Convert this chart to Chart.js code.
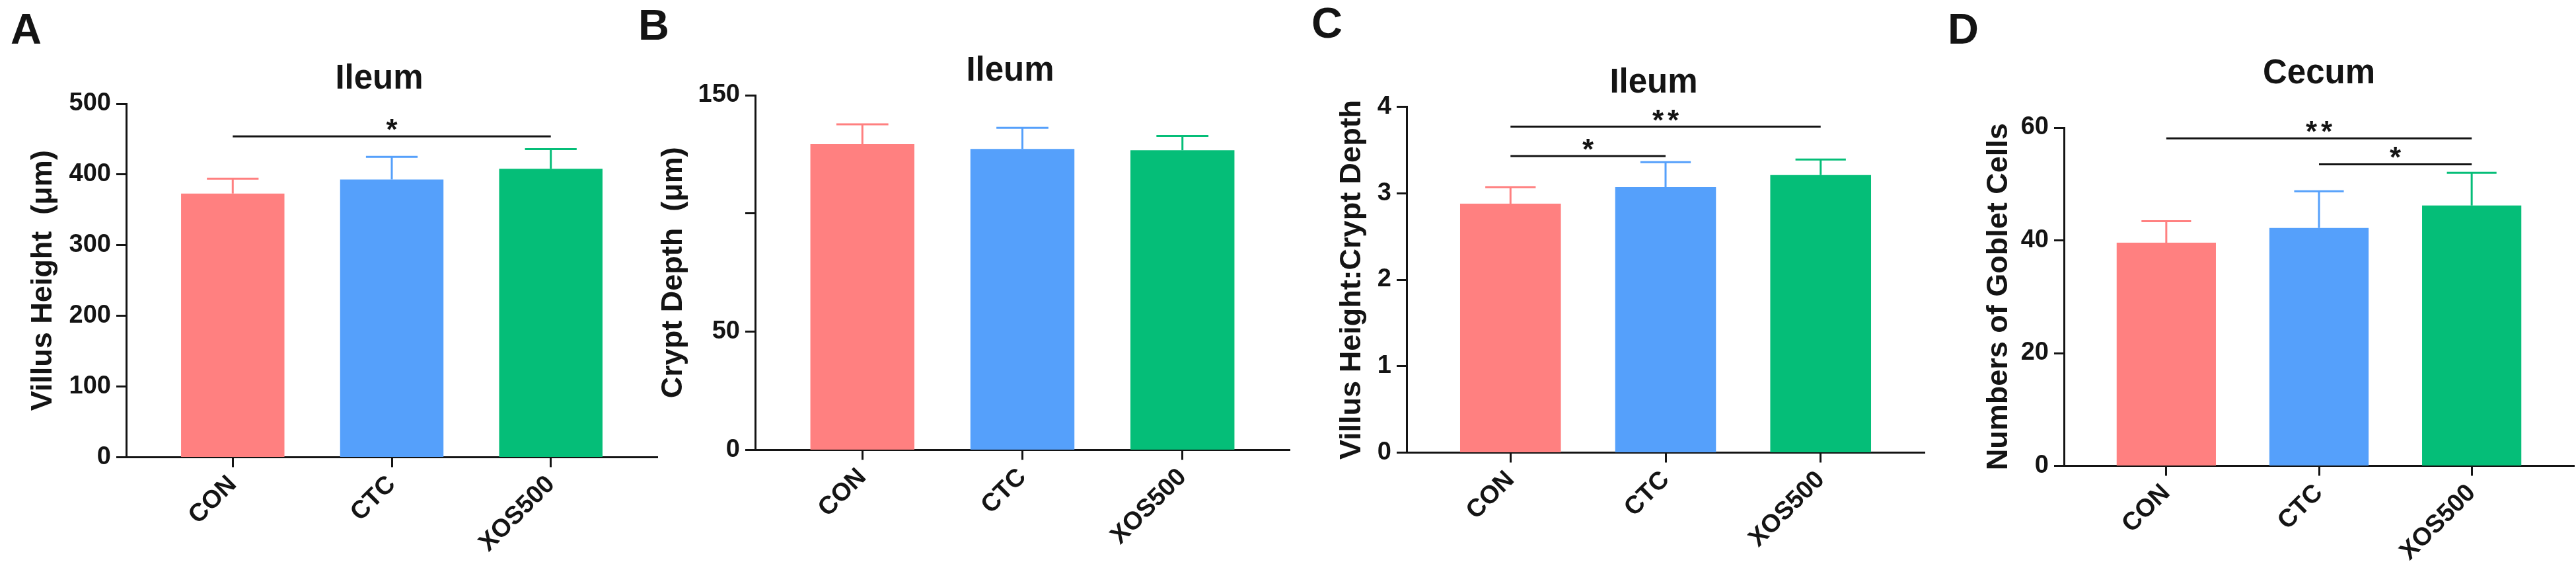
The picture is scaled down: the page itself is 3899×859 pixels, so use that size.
<!DOCTYPE html>
<html>
<head>
<meta charset="utf-8">
<script src="https://cdn.jsdelivr.net/npm/chart.js@4.4.1/dist/chart.umd.min.js"></script>
<style>
  html, body { margin: 0; padding: 0; background: #fff; }
  #wrap { position: relative; width: 3899px; height: 859px; }
  #wrap canvas { position: absolute; left: 0; top: 0; }
</style>
</head>
<body>
<div id="wrap">
  <canvas id="chartA" width="3899" height="859"></canvas>
  <canvas id="chartB" width="3899" height="859"></canvas>
  <canvas id="chartC" width="3899" height="859"></canvas>
  <canvas id="chartD" width="3899" height="859"></canvas>
</div>
<script>
var groups = ["CON", "CTC", "XOS500"];
var barColors = ["#ff8080", "#55a0fb", "#05be78"];

// mean and upper SD
var villusMean = [373, 393, 408];
var villusSD = [21, 32, 28];
var cryptMean = [129.3, 127.3, 126.7];
var cryptSD = [8.4, 8.9, 6.1];
var ratioMean = [2.88, 3.07, 3.21];
var ratioSD = [0.19, 0.29, 0.18];
var gobletMean = [39.6, 42.2, 46.2];
var gobletSD = [3.8, 6.5, 5.8];

// y ticks (value, label)
var villusTicks = [0, 100, 200, 300, 400, 500];
var villusTickLabels = ["0", "100", "200", "300", "400", "500"];
var cryptTicks = [0, 50, 100, 150];
var cryptTickLabels = ["0", "50", "", "150"];
var ratioTicks = [0, 1, 2, 3, 4];
var ratioTickLabels = ["0", "1", "2", "3", "4"];
var gobletTicks = [0, 20, 40, 60];
var gobletTickLabels = ["0", "20", "40", "60"];

// significance brackets: [from group, to group, height, mark]
var villusSig = [[0, 2, 454, "*"]];
var cryptSig = [];
var ratioSig = [[0, 1, 3.43, "*"], [0, 2, 3.77, "**"]];
var gobletSig = [[0, 2, 58.1, "**"], [1, 2, 53.5, "*"]];

var INK = "#141414";
var FONT = "'Liberation Sans', Arial, Helvetica, sans-serif";
Chart.defaults.font.family = FONT;
Chart.defaults.color = INK;

var extras = {
  id: "extras",
  afterDatasetsDraw: function(chart, args, o) {
    var ctx = chart.ctx, xs = chart.scales.x, ys = chart.scales.y;
    var meta = chart.getDatasetMeta(0);
    ctx.save();
    ctx.lineWidth = 3;
    ctx.lineCap = "butt";
    o.mean.forEach(function(m, i) {
      var bar = meta.data[i];
      var base = ys.getPixelForValue(m);
      var top = ys.getPixelForValue(m + o.sd[i]);
      var half = bar.width / 4;
      ctx.strokeStyle = barColors[i];
      ctx.beginPath();
      ctx.moveTo(bar.x, base);
      ctx.lineTo(bar.x, top);
      ctx.moveTo(bar.x - half, top);
      ctx.lineTo(bar.x + half, top);
      ctx.stroke();
    });
    ctx.strokeStyle = INK;
    ctx.fillStyle = INK;
    ctx.font = "bold 44px " + FONT;
    ctx.letterSpacing = "6px";
    ctx.textAlign = "center";
    ctx.textBaseline = "alphabetic";
    o.sig.forEach(function(s) {
      var x1 = xs.getPixelForValue(s[0]);
      var x2 = xs.getPixelForValue(s[1]);
      var y = ys.getPixelForValue(s[2]);
      ctx.beginPath();
      ctx.moveTo(x1, y);
      ctx.lineTo(x2, y);
      ctx.stroke();
      ctx.fillText(s[3], (x1 + x2) / 2 + 3, y + 5);
    });
    ctx.restore();
  },
  afterDraw: function(chart, args, o) {
    var ctx = chart.ctx;
    ctx.save();
    ctx.fillStyle = INK;
    ctx.textBaseline = "alphabetic";
    ctx.font = "bold 51px " + FONT;
    ctx.textAlign = "center";
    ctx.fillText(o.title, o.titleX, o.titleY);
    ctx.font = "bold 65px " + FONT;
    ctx.textAlign = "left";
    ctx.fillText(o.letter, o.letterX, o.letterY);
    ctx.restore();
  }
};

function panel(id, p) {
  var W = 3899, H = 859;
  var titleSize = 45;
  var padLeft = p.yTitleX - titleSize / 2;
  var yWidth = p.axisX - padLeft;
  var xHeight = H - p.bottom;
  new Chart(id, {
    type: "bar",
    data: {
      datasets: [{
        data: p.mean.map(function(v, i) { return { x: i, y: v }; }),
        backgroundColor: barColors,
        borderWidth: 0,
        barPercentage: 0.65,
        categoryPercentage: 1
      }]
    },
    options: {
      responsive: false,
      devicePixelRatio: 1,
      animation: false,
      layout: { padding: { left: padLeft, right: W - p.right, top: p.top, bottom: 0 } },
      plugins: {
        legend: { display: false },
        tooltip: { enabled: false },
        extras: {
          mean: p.mean, sd: p.sd, sig: p.sig,
          title: p.title, titleX: p.titleX, titleY: p.titleY,
          letter: p.letter, letterX: p.letterX, letterY: p.letterY
        }
      },
      scales: {
        x: {
          type: "linear",
          min: -0.67,
          max: 2.67,
          offset: false,
          afterBuildTicks: function(s) { s.ticks = groups.map(function(g, i) { return { value: i }; }); },
          afterFit: function(s) { s.height = xHeight; },
          ticks: {
            autoSkip: false,
            minRotation: 45,
            maxRotation: 45,
            padding: 4,
            font: { size: 38, weight: "bold" },
            color: INK,
            callback: function(v) { return groups[v]; }
          },
          grid: { offset: false, drawOnChartArea: false, drawTicks: true, tickLength: 15, tickWidth: 3, tickColor: INK },
          border: { display: true, width: 3, color: INK }
        },
        y: {
          min: 0,
          max: p.ticks[p.ticks.length - 1],
          afterBuildTicks: function(s) { s.ticks = p.ticks.map(function(v) { return { value: v }; }); },
          afterFit: function(s) { s.width = yWidth; },
          ticks: {
            padding: 8,
            font: { size: 38, weight: "bold" },
            color: INK,
            callback: function(v) { return p.tickLabels[p.ticks.indexOf(v)]; }
          },
          grid: { drawOnChartArea: false, drawTicks: true, tickLength: 15, tickWidth: 3, tickColor: INK },
          border: { display: true, width: 3, color: INK },
          title: {
            display: true,
            text: p.yLabel,
            padding: 0,
            color: INK,
            font: { size: titleSize, weight: "bold", lineHeight: 1 }
          }
        }
      }
    },
    plugins: [extras]
  });
}

panel("chartA", {
  mean: villusMean, sd: villusSD, sig: villusSig,
  ticks: villusTicks, tickLabels: villusTickLabels,
  yLabel: "Villus Height  (μm)", title: "Ileum", letter: "A",
  axisX: 191, right: 995, top: 157, bottom: 691.5, yTitleX: 66,
  titleX: 574, titleY: 133.5, letterX: 16, letterY: 66
});
panel("chartB", {
  mean: cryptMean, sd: cryptSD, sig: cryptSig,
  ticks: cryptTicks, tickLabels: cryptTickLabels,
  yLabel: "Crypt Depth  (μm)", title: "Ileum", letter: "B",
  axisX: 1143, right: 1952, top: 144, bottom: 680.5, yTitleX: 1020,
  titleX: 1529, titleY: 121.5, letterX: 966, letterY: 60
});
panel("chartC", {
  mean: ratioMean, sd: ratioSD, sig: ratioSig,
  ticks: ratioTicks, tickLabels: ratioTickLabels,
  yLabel: "Villus Height:Crypt Depth", title: "Ileum", letter: "C",
  axisX: 2129, right: 2913, top: 161.5, bottom: 684.5, yTitleX: 2047,
  titleX: 2503, titleY: 139.5, letterX: 1985, letterY: 57
});
panel("chartD", {
  mean: gobletMean, sd: gobletSD, sig: gobletSig,
  ticks: gobletTicks, tickLabels: gobletTickLabels,
  yLabel: "Numbers of Goblet Cells", title: "Cecum", letter: "D",
  axisX: 3124, right: 3896, top: 193, bottom: 704.5, yTitleX: 3026,
  titleX: 3510, titleY: 126, letterX: 2948, letterY: 65.5
});
</script>
</body>
</html>
